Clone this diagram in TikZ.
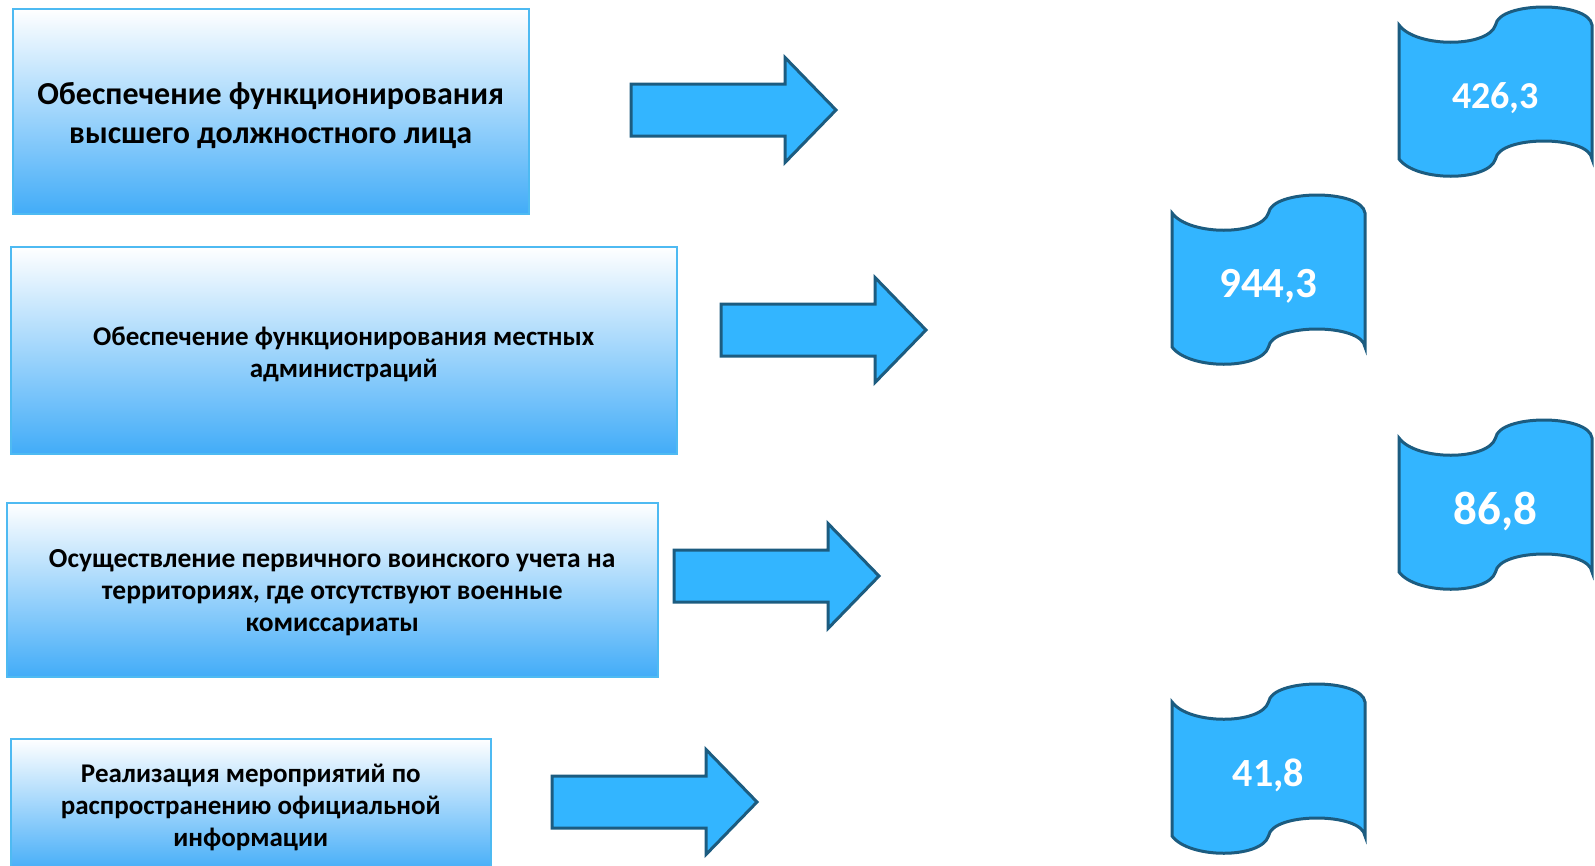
\documentclass[tikz,border=0pt]{standalone}
\usepackage{fontspec}
\setmainfont{Carlito}
\usetikzlibrary{calc}
\definecolor{arrowblue}{RGB}{51,181,255}
\definecolor{edgeblue}{RGB}{28,92,128}
\definecolor{boxblue}{RGB}{66,172,248}
\definecolor{boxline}{RGB}{78,186,242}

\begin{document}
\begin{tikzpicture}[x=1pt,y=-1pt,
    box/.style={draw=boxline, line width=1.5pt, top color=white, bottom color=boxblue,
      anchor=north west, inner sep=0pt},
    boxtext/.style={align=center, inner sep=0pt, font=\bfseries\fontsize{27}{32}\selectfont},
    blockfill/.style={fill=arrowblue, draw=edgeblue, line width=3pt, line join=miter},
    val/.style={text=white}]
				\useasboundingbox (0,0) rectangle (1595,865);
				\clip (0,0) rectangle (1595,865);
				
				% left column
				\node[box, minimum width=516pt, minimum height=205pt] (b1) at (12,8) {};
				\node[box, minimum width=666pt, minimum height=207pt] (b2) at (10,246) {};
				\node[box, minimum width=651pt, minimum height=174pt] (b3) at (6,502) {};
				\node[box, minimum width=480pt, minimum height=134pt] (b4) at (10,738) {};
				
				\node[boxtext, font=\bfseries\fontsize{32}{39}\selectfont] (t1) at ($(b1.center)+(0,4)$)
				  {Обеспечение функционирования\\высшего должностного лица};
				\node[boxtext] (t2) at ($(b2.center)+(0,4)$)
				  {Обеспечение функционирования местных\\администраций};
				\node[boxtext, font=\bfseries\fontsize{27.5}{32}\selectfont] (t3) at ($(b3.center)+(0,3)$)
				  {Осуществление первичного воинского учета на\\территориях, где отсутствуют военные\\комиссариаты};
				\node[boxtext] (t4) at ($(b4.center)+(0,2)$)
				  {Реализация мероприятий по\\распространению официальной\\информации};
				
				% block arrows
				\foreach \ax/\ay in {631/110, 721/330, 674/576, 552/802}{
					\draw[blockfill] (\ax,\ay-26) -- ++(154,0) -- ++(0,-26.5) -- (\ax+205,\ay)
					  -- (\ax+154,\ay+52.5) -- ++(0,-26.5) -- (\ax,\ay+26) -- cycle;}
				
				% waves with the sums
				\foreach \wx/\wy/\val/\fs [count=\i] in {1399/25/{426,3}/38, 1172/213/{944,3}/43, 1399/438/{86,8}/47, 1172/702/{41,8}/40}{
					\begin{scope}[shift={(\wx,\wy)}]
						\draw[blockfill] (0,0) .. controls (17,23) and (89,23) .. (96.5,0)
						  .. controls (100,-24) and (190,-24) .. (193,0) -- (193,134)
						  .. controls (190,110) and (100,110) .. (96.5,134)
						  .. controls (89,157) and (17,157) .. (0,134) -- cycle;
						\node[val, font=\bfseries\fontsize{\fs}{\fs}\selectfont] (w\i) at (96.5,73) {\val};
					\end{scope}}
\end{tikzpicture}
\end{document}
